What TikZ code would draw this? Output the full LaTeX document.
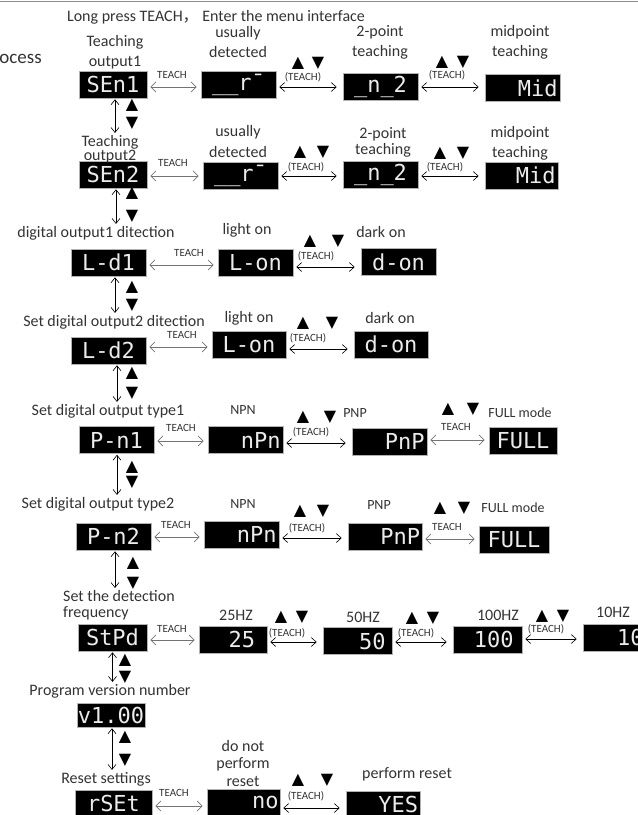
\documentclass[tikz,border=0pt]{standalone}
\usepackage{fontspec}
\setmainfont{Carlito}
\newfontfamily\cjk{Noto Sans CJK SC}
\newfontfamily\symf{DejaVu Sans}
\newfontfamily\segf{DejaVu Sans Mono}
\usetikzlibrary{positioning,arrows.meta}
\definecolor{topGreen}{HTML}{6FA36B}
\definecolor{txtGray}{HTML}{333333}
\newcommand{\updn}[1]{\makebox[#1pt]{▲}\makebox[#1pt]{▼}}
\tikzset{
  disp/.style={fill=black, draw=gray!60, line width=0.6pt, minimum width=75pt,
               minimum height=27pt, inner sep=0pt, text=white!92!black,
               font=\segf\fontsize{22}{22}\selectfont},
  dispr/.style={text width=64pt, align=right},
  lbl/.style={font=\fontsize{16}{20}\selectfont, text=txtGray, align=center, inner sep=1pt},
  lblt/.style={font=\fontsize{16}{14}\selectfont, text=txtGray, align=center, inner sep=1pt},
  sm/.style={font=\fontsize{11}{12}\selectfont, text=txtGray, inner sep=0pt},
  md/.style={font=\fontsize{14}{16}\selectfont, text=txtGray, inner sep=0pt},
  tri/.style={font=\symf\fontsize{16}{16}\selectfont, inner sep=0pt},
  tarr/.style={draw=black!55, line width=0.8pt,
               {Straight Barb[length=5pt,width=10pt]}-{Straight Barb[length=5pt,width=10pt]},
               shorten <=3pt, shorten >=4pt},
  karr/.style={line width=0.6pt, {Straight Barb[length=5pt,width=9pt]}-{Straight Barb[length=5pt,width=9pt]},
               shorten <=3pt, shorten >=6pt},
  varr/.style={line width=0.6pt, {Straight Barb[length=5pt,width=8pt]}-{Straight Barb[length=5pt,width=8pt]},
               shorten <=1pt, shorten >=1pt},
}

\begin{document}
\begin{tikzpicture}[x=1pt,y=-1pt]
  \useasboundingbox (0,0) rectangle (638,815);
  \clip (0,0) rectangle (638,815);
  \draw[topGreen, line width=1.5pt] (0,1.5) -- (638,1.5);

  % titles
  \node[lbl] (title) at (216,17) {Long press TEACH{\cjk ，} Enter the menu interface};
  \node[lbl, font=\fontsize{19}{20}\selectfont, anchor=east] (proc) at (43,57) {Process};

  % row 1: teaching output1
  \node[disp, minimum width=68pt] (sen1) at (113,84.5) {SEn1};
  \node[disp] (usu1) at (238.5,85) {\_\_r¯};
  \node[disp] (two1) at (380.5,87) {\_n\_2};
  \node[disp, dispr, text width=70pt] (mid1) at (522.5,88) {Mid};
  \node[lbl] (lsen1) at (115,52) {Teaching\\output1};
  \node[lbl] (lusu1) at (238,42) {usually\\detected};
  \node[lbl] (ltwo1) at (380,42) {2-point\\teaching};
  \node[lbl] (lmid1) at (520,42) {midpoint\\teaching};
  \node[sm] (k11) at (172,75) {TEACH};
  \node[tri] (t12) at (308,63) {\updn{20}};
  \node[sm] (k12) at (303,77) {(TEACH)};
  \node[tri] (t13) at (452.5,62) {\updn{21}};
  \node[sm] (k13) at (447,75) {(TEACH)};
  \draw[tarr] ([yshift=-2.5pt]sen1.east) -- ([yshift=-2.5pt]sen1.east -| usu1.west);
  \draw[karr] ([yshift=-2pt]usu1.east) -- ([yshift=-2pt]usu1.east -| two1.west);
  \draw[karr] (two1.east) -- (two1.east -| mid1.west);

  % row 2: teaching output2
  \node[disp, minimum width=68pt] (sen2) at (113,174.5) {SEn2};
  \node[disp] (usu2) at (240.5,176) {\_\_r¯};
  \node[disp] (two2) at (380.5,175) {\_n\_2};
  \node[disp, dispr, text width=68pt, minimum width=73pt] (mid2) at (521.5,175.5) {Mid};
  \node[lblt] (lsen2) at (110,149) {Teaching\\output2};
  \node[lbl, font=\fontsize{16}{21}\selectfont] (lusu2) at (238,141) {usually\\detected};
  \node[lbl, font=\fontsize{16}{16}\selectfont] (ltwo2) at (383,142) {2-point\\teaching};
  \node[lbl] (lmid2) at (520,143) {midpoint\\teaching};
  \node[sm] (k21) at (173,163) {TEACH};
  \node[tri] (t22) at (311.5,152) {\updn{23}};
  \node[sm] (k22) at (306,167) {(TEACH)};
  \node[tri] (t23) at (451.5,153) {\updn{23}};
  \node[sm] (k23) at (445,167) {(TEACH)};
  \draw[tarr] ([yshift=-1.5pt]sen2.east) -- ([yshift=-1.5pt]sen2.east -| usu2.west);
  \draw[karr] (usu2.east) -- (usu2.east -| two2.west);
  \draw[karr] ([yshift=-1pt]two2.east) -- ([yshift=-1pt]two2.east -| mid2.west);

  % row 3: digital output1 detection
  \node[lbl] (lld1) at (96,233) {digital output1 ditection};
  \node[disp] (ld1) at (108.5,262.5) {L-d1};
  \node[disp] (lo1) at (255.5,262.5) {L-on};
  \node[disp] (do1) at (398.5,262) {d-on};
  \node[lbl] (llo1) at (247,230) {light on};
  \node[lbl] (ldo1) at (381,232) {dark on};
  \node[sm] (k31) at (189,253) {TEACH};
  \node[tri] (t32) at (324,241) {\updn{28}};
  \node[sm] (k32) at (316,256) {(TEACH)};
  \draw[tarr] ([yshift=-2.5pt]ld1.east) -- ([yshift=-2.5pt]ld1.east -| lo1.west);
  \draw[karr] ([yshift=-4.5pt]lo1.east) -- ([yshift=-4.5pt]lo1.east -| do1.west);

  % row 4: digital output2 detection
  \node[lbl] (lld2) at (114,322) {Set digital output2 ditection};
  \node[disp] (ld2) at (108.5,350.5) {L-d2};
  \node[disp, minimum width=74pt] (lo2) at (249,345) {L-on};
  \node[disp, minimum width=74pt] (do2) at (391,344.5) {d-on};
  \node[lbl] (llo2) at (249,318) {light on};
  \node[lbl] (ldo2) at (390,318) {dark on};
  \node[sm] (k41) at (182,335) {TEACH};
  \node[tri] (t42) at (317.5,323) {\updn{29}};
  \node[sm] (k42) at (308,338) {(TEACH)};
  \draw[tarr] ([yshift=3.5pt]ld2.east) -- ([yshift=3.5pt]ld2.east -| lo2.west);
  \draw[karr] ([yshift=-4pt]lo2.east) -- ([yshift=-4pt]lo2.east -| do2.west);

  % row 5: output type1
  \node[lbl] (lpn1) at (108,411) {Set digital output type1};
  \node[disp] (pn1) at (116.5,440) {P-n1};
  \node[disp, dispr, text width=70pt] (np1) at (245.5,440) {nPn};
  \node[disp, dispr, text width=70pt] (pp1) at (389.5,441.5) {PnP};
  \node[disp, minimum width=68pt] (fu1) at (523,440.5) {FULL};
  \node[md] (lnp1) at (243,410) {NPN};
  \node[md] (lpp1) at (355,413) {PNP};
  \node[md] (lfu1) at (520,413) {FULL mode};
  \node[sm] (k51) at (181,428) {TEACH};
  \node[tri] (t52) at (316.5,417) {\updn{27}};
  \node[sm] (k52) at (311,432) {(TEACH)};
  \node[tri] (t53) at (460.5,409) {\updn{25}};
  \node[sm] (k53) at (456,427) {TEACH};
  \draw[tarr] ([yshift=-1pt]pn1.east) -- ([yshift=-1pt]pn1.east -| np1.west);
  \draw[karr] ([yshift=-3pt]np1.east) -- ([yshift=-3pt]np1.east -| pp1.west);
  \draw[tarr] ([yshift=1.5pt]pp1.east) -- ([yshift=1.5pt]pp1.east -| fu1.west);

  % row 6: output type2
  \node[lbl] (lpn2) at (98,504) {Set digital output type2};
  \node[disp] (pn2) at (113.5,536.5) {P-n2};
  \node[disp, dispr, text width=70pt] (np2) at (241.5,534.5) {nPn};
  \node[disp, dispr, text width=70pt, minimum width=74pt] (pp2) at (385,536.5) {PnP};
  \node[disp, minimum width=70pt] (fu2) at (514,539.5) {FULL};
  \node[md] (lnp2) at (243,504) {NPN};
  \node[md] (lpp2) at (379,505) {PNP};
  \node[md] (lfu2) at (513,508) {FULL mode};
  \node[sm] (k61) at (176,525) {TEACH};
  \node[tri] (t62) at (311.5,511) {\updn{23}};
  \node[sm] (k62) at (307,528) {(TEACH)};
  \node[tri] (t63) at (452,508) {\updn{24}};
  \node[sm] (k63) at (447,527) {TEACH};
  \draw[tarr] ([yshift=-0.5pt]pn2.east) -- ([yshift=-0.5pt]pn2.east -| np2.west);
  \draw[karr] ([yshift=-3.5pt]np2.east) -- ([yshift=-3.5pt]np2.east -| pp2.west);
  \draw[tarr] ([yshift=-2.5pt]pp2.east) -- ([yshift=-2.5pt]pp2.east -| fu2.west);

  % row 7: detection frequency
  \node[lbl, align=left, font=\fontsize{16}{16}\selectfont, anchor=west] (lst) at (62,605) {Set the detection\\frequency};
  \node[disp, minimum width=69pt] (st) at (112.5,637.5) {StPd};
  \node[disp, dispr, text width=44pt, minimum width=68pt] (f25) at (233,639.5) {25};
  \node[disp, dispr, text width=56pt, minimum width=69pt] (f50) at (357.5,641) {50};
  \node[disp, dispr, text width=52pt, minimum width=69pt] (f100) at (487.5,639.5) {100};
  \node[disp, dispr, text width=52pt, minimum width=69pt] (f10) at (617.5,637.5) {10};
  \node[lbl] (l25) at (236,615) {25HZ};
  \node[lbl] (l50) at (363,617) {50HZ};
  \node[lbl] (l100) at (498,615) {100HZ};
  \node[lbl] (l10) at (613,612) {10HZ};
  \node[sm] (k71) at (172,629) {TEACH};
  \node[tri] (t72) at (291.5,617) {\updn{21}};
  \node[sm] (k72) at (287,633) {(TEACH)};
  \node[tri] (t73) at (422.5,618) {\updn{21}};
  \node[sm] (k73) at (416,633) {(TEACH)};
  \node[tri] (t74) at (552.5,616) {\updn{21}};
  \node[sm] (k74) at (546,629) {(TEACH)};
  \draw[tarr] ([yshift=-2.5pt]st.east) -- ([yshift=-2.5pt]st.east -| f25.west);
  \draw[karr] ([yshift=-2.5pt]f25.east) -- ([yshift=-2.5pt]f25.east -| f50.west);
  \draw[karr] ([yshift=-1pt]f50.east) -- ([yshift=-1pt]f50.east -| f100.west);
  \draw[karr] ([yshift=0.5pt]f100.east) -- ([yshift=0.5pt]f100.east -| f10.west);

  % program version
  \node[lbl] (lver) at (110,691) {Program version number};
  \node[disp, minimum width=68pt, minimum height=24pt] (ver) at (111,715) {v1.00};

  % row 8: reset
  \node[lbl] (lrs) at (106,779) {Reset settings};
  \node[disp, minimum width=77pt] (rs) at (113.5,803.5) {rSEt};
  \node[disp, dispr, text width=70pt, minimum width=73pt] (no) at (243.5,802.5) {no};
  \node[disp, dispr, text width=70pt, minimum width=74pt] (ye) at (383,804.5) {YES};
  \node[lbl, font=\fontsize{16}{17.5}\selectfont] (lno) at (243,763) {do not\\perform\\reset};
  \node[lbl] (lye) at (407,774) {perform reset};
  \node[sm] (k81) at (174,793) {TEACH};
  \node[tri] (t82) at (312.5,780) {\updn{29}};
  \node[sm] (k82) at (306,796) {(TEACH)};
  \draw[tarr] ([yshift=-2.5pt]rs.east) -- ([yshift=-2.5pt]rs.east -| no.west);
  \draw[karr] ([yshift=-5.5pt]no.east) -- ([yshift=-5.5pt]no.east -| ye.west);

  % vertical menu steps
  \draw[varr] ([xshift=2pt]sen1.south) -- ([xshift=2pt]sen1.south |- lsen2.north);
  \draw[varr] ([xshift=3pt]sen2.south) -- ([xshift=3pt]sen2.south |- lld1.north);
  \draw[varr] ([xshift=6.5pt]ld1.south) -- ([xshift=6.5pt]ld1.south |- lld2.north);
  \draw[varr] ([xshift=8.5pt]ld2.south) -- ([xshift=8.5pt]ld2.south |- lpn1.north);
  \draw[varr] ([xshift=0.5pt]pn1.south) -- ([xshift=0.5pt]pn1.south |- lpn2.north);
  \draw[varr] ([xshift=1.5pt]pn2.south) -- ([xshift=1.5pt]pn2.south |- lst.north);
  \draw[varr] (st.south) -- (st.south |- lver.north);
  \draw[varr] ([xshift=1pt]ver.south) -- ([xshift=1pt]ver.south |- lrs.north);
  \foreach \x/\ya/\yb [count=\i] in {132/105/123, 132/193/216, 132/287/305, 132/373/393,
                                     132/467/482, 133/563/583, 125/660/677, 125/737/760} {
    \node[tri] (up\i) at (\x,\ya) {▲};
    \node[tri] (dn\i) at (\x,\yb) {▼};
  }
\end{tikzpicture}
\end{document}
